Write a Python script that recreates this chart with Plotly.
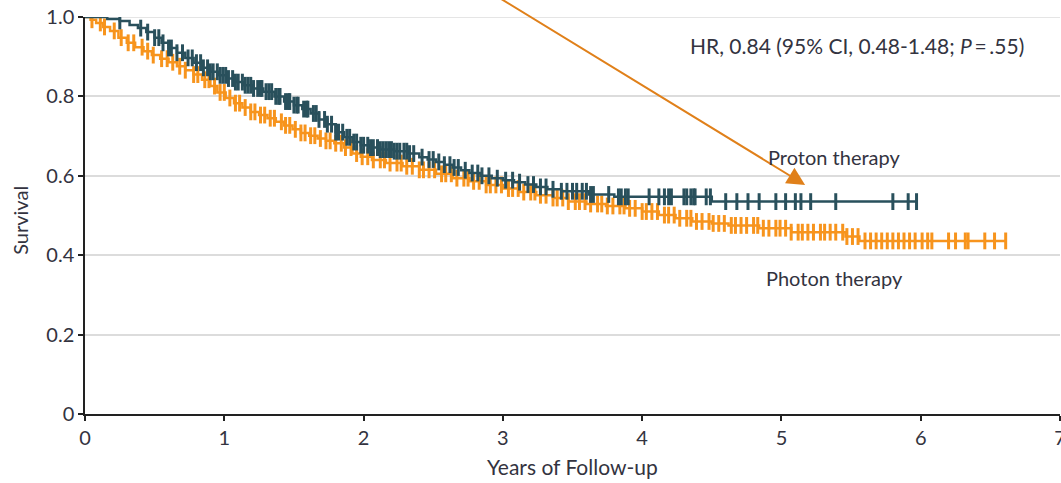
import plotly.graph_objects as go
import bisect

# ---- Data ----
proton_t = [0, 0.16, 0.25, 0.32, 0.38, 0.44, 0.50, 0.55, 0.60, 0.66, 0.72, 0.78, 0.84, 0.90, 0.96,
            1.02, 1.08, 1.14, 1.20, 1.28, 1.36, 1.43, 1.50, 1.56, 1.62, 1.68, 1.74, 1.80, 1.86, 1.92,
            1.98, 2.04, 2.12, 2.22, 2.32, 2.40, 2.46, 2.52, 2.58, 2.64, 2.70, 2.76, 2.84, 2.92, 3.00,
            3.08, 3.16, 3.24, 3.32, 3.42, 3.62, 3.80, 4.50, 5.97]
proton_s = [1.0, 0.995, 0.99, 0.98, 0.972, 0.962, 0.948, 0.935, 0.922, 0.91, 0.897, 0.885, 0.872, 0.862, 0.853,
            0.845, 0.836, 0.828, 0.82, 0.812, 0.80, 0.787, 0.778, 0.768, 0.757, 0.742, 0.73, 0.71, 0.697, 0.685,
            0.677, 0.671, 0.666, 0.662, 0.656, 0.647, 0.641, 0.635, 0.628, 0.621, 0.614, 0.607, 0.600, 0.594, 0.589,
            0.584, 0.578, 0.572, 0.566, 0.561, 0.553, 0.547, 0.535, 0.535]
proton_censor = [0.25, 0.40, 0.45, 0.50, 0.53, 0.56, 0.60, 0.62, 0.66, 0.70, 0.74, 0.77, 0.80, 0.83, 0.85,
                 0.88, 0.90, 0.92, 0.95, 0.97, 0.99, 1.01, 1.03, 1.06, 1.08, 1.10, 1.13, 1.15, 1.17, 1.19,
                 1.21, 1.24, 1.26, 1.27, 1.30, 1.32, 1.34, 1.37, 1.39, 1.40, 1.44, 1.46, 1.47, 1.50, 1.52,
                 1.53, 1.57, 1.59, 1.60, 1.64, 1.66, 1.68, 1.72, 1.74, 1.77, 1.80, 1.82, 1.85, 1.88, 1.90,
                 1.93, 1.95, 1.98, 2.00, 2.03, 2.05, 2.07, 2.10, 2.12, 2.14, 2.16, 2.18, 2.20, 2.22, 2.24,
                 2.26, 2.29, 2.31, 2.33, 2.36, 2.42, 2.47, 2.50, 2.54, 2.58, 2.62, 2.65, 2.68, 2.73, 2.78,
                 2.82, 2.85, 2.90, 2.96, 3.02, 3.07, 3.12, 3.18, 3.22, 3.27, 3.31, 3.36, 3.42, 3.46, 3.50,
                 3.53, 3.57, 3.60, 3.63, 3.65, 3.76, 3.83, 3.85, 3.88, 3.90, 4.05, 4.12, 4.16, 4.19, 4.21,
                 4.30, 4.32, 4.35, 4.37, 4.38, 4.46, 4.49, 4.60, 4.68, 4.76, 4.84, 4.96, 5.03, 5.10, 5.14,
                 5.21, 5.39, 5.80, 5.91, 5.97]

photon_t = [0, 0.04, 0.08, 0.13, 0.18, 0.24, 0.30, 0.36, 0.42, 0.48, 0.54, 0.60, 0.66, 0.72, 0.78,
            0.84, 0.90, 0.95, 1.01, 1.07, 1.13, 1.19, 1.25, 1.31, 1.37, 1.43, 1.49, 1.55, 1.61, 1.67,
            1.73, 1.79, 1.86, 1.92, 1.98, 2.06, 2.16, 2.28, 2.40, 2.52, 2.64, 2.76, 2.88, 3.00, 3.12,
            3.24, 3.36, 3.47, 3.60, 3.74, 3.88, 4.00, 4.12, 4.24, 4.36, 4.50, 4.62, 4.84, 5.07, 5.46,
            5.56, 6.61]
photon_s = [1.0, 0.993, 0.985, 0.975, 0.965, 0.948, 0.935, 0.924, 0.914, 0.904, 0.895, 0.886, 0.876, 0.866, 0.855,
            0.842, 0.826, 0.81, 0.796, 0.783, 0.772, 0.761, 0.753, 0.745, 0.736, 0.727, 0.717, 0.708, 0.701, 0.694,
            0.688, 0.682, 0.671, 0.656, 0.648, 0.64, 0.632, 0.624, 0.615, 0.605, 0.594, 0.586, 0.577, 0.568, 0.559,
            0.551, 0.544, 0.535, 0.529, 0.524, 0.518, 0.51, 0.501, 0.493, 0.485, 0.48, 0.475, 0.468, 0.458, 0.447,
            0.436, 0.436]
photon_censor = [0.05, 0.11, 0.14, 0.21, 0.26, 0.31, 0.35, 0.41, 0.45, 0.49, 0.55, 0.59, 0.63, 0.68, 0.72,
                 0.78, 0.81, 0.86, 0.89, 0.93, 0.97, 1.00, 1.04, 1.08, 1.11, 1.15, 1.19, 1.22, 1.26, 1.29,
                 1.33, 1.36, 1.41, 1.44, 1.47, 1.51, 1.55, 1.58, 1.62, 1.65, 1.69, 1.73, 1.76, 1.80, 1.84,
                 1.87, 1.91, 1.95, 1.99, 2.03, 2.07, 2.12, 2.15, 2.19, 2.24, 2.27, 2.31, 2.35, 2.40, 2.43,
                 2.47, 2.51, 2.56, 2.59, 2.63, 2.67, 2.72, 2.75, 2.79, 2.83, 2.88, 2.91, 2.95, 2.99, 3.04,
                 3.07, 3.11, 3.15, 3.20, 3.23, 3.27, 3.31, 3.36, 3.39, 3.43, 3.47, 3.52, 3.55, 3.59, 3.63,
                 3.68, 3.71, 3.75, 3.79, 3.84, 3.87, 3.91, 3.95, 4.00, 4.03, 4.07, 4.11, 4.16, 4.19, 4.23,
                 4.27, 4.32, 4.35, 4.39, 4.43, 4.48, 4.51, 4.55, 4.59, 4.64, 4.67, 4.71, 4.75, 4.80, 4.83,
                 4.87, 4.91, 4.96, 4.99, 5.03, 5.07, 5.12, 5.15, 5.19, 5.23, 5.28, 5.31, 5.35, 5.39, 5.44,
                 5.47, 5.51, 5.55, 5.60, 5.64, 5.68, 5.72, 5.76, 5.80, 5.84, 5.88, 5.92, 5.96, 6.01, 6.05,
                 6.08, 6.20, 6.25, 6.32, 6.34, 6.46, 6.53, 6.61]

x_ticks = [0, 1, 2, 3, 4, 5, 6, 7]
y_ticks = [0, 0.2, 0.4, 0.6, 0.8, 1.0]
y_tick_labels = ["0", "0.2", "0.4", "0.6", "0.8", "1.0"]

TEAL = "#29505c"
ORANGE = "#f7941d"
ARROW = "#e0801a"
TEXT = "#333340"
GRID = "#dcdcdc"
FONT = "Lato"


def step_lookup(ts, ss, t):
    i = bisect.bisect_right(ts, t) - 1
    return ss[max(i, 0)]


fig = go.Figure()

for ts, ss, cens, col in [(photon_t, photon_s, photon_censor, ORANGE),
                          (proton_t, proton_s, proton_censor, TEAL)]:
    fig.add_trace(go.Scatter(x=ts, y=ss, mode="lines", line=dict(color=col, width=2.5, shape="hv"),
                             showlegend=False, hoverinfo="skip"))
    fig.add_trace(go.Scatter(x=cens, y=[step_lookup(ts, ss, c) for c in cens], mode="markers",
                             marker=dict(symbol="line-ns", size=12, line=dict(color=col, width=3)),
                             showlegend=False, hoverinfo="skip"))

# gridline at the top of the range (plotly skips the grid at the very edge)
fig.add_shape(type="line", xref="x", yref="y", x0=0, x1=7, y0=y_ticks[-1], y1=y_ticks[-1],
              line=dict(color=GRID, width=1.5), layer="below")

fig.add_annotation(x=5.17, y=0.577, ax=2.92, ay=1.06, xref="x", yref="y", axref="x", ayref="y",
                   showarrow=True, arrowhead=2, arrowsize=1.8, arrowwidth=2, arrowcolor=ARROW, text="")

fig.add_annotation(x=5.54, y=0.929, xref="x", yref="y", showarrow=False,
                   xanchor="center", yanchor="middle",
                   text="HR, 0.84 (95% CI, 0.48-1.48; <i>P</i>\u2009=\u2009.55)",
                   font=dict(family=FONT, size=21, color=TEXT))
fig.add_annotation(x=5.38, y=0.647, xref="x", yref="y", showarrow=False, text="Proton therapy",
                   xanchor="center", yanchor="middle",
                   font=dict(family=FONT, size=20, color=TEXT))
fig.add_annotation(x=5.38, y=0.343, xref="x", yref="y", showarrow=False, text="Photon therapy",
                   xanchor="center", yanchor="middle",
                   font=dict(family=FONT, size=20, color=TEXT))

# axis titles placed as annotations (paper coordinates)
fig.add_annotation(x=-0.0667, y=0.489, xref="paper", yref="paper", showarrow=False, text="Survival",
                   xanchor="center", yanchor="middle",
                   textangle=-90, font=dict(family=FONT, size=20, color=TEXT))
fig.add_annotation(x=0.5005, y=-0.1335, xref="paper", yref="paper", showarrow=False,
                   xanchor="center", yanchor="middle",
                   text="Years of Follow-up", font=dict(family=FONT, size=21, color=TEXT))

fig.update_layout(
    width=1061, height=483,
    margin=dict(l=85, r=1, t=17, b=69),
    paper_bgcolor="white", plot_bgcolor="white",
    font=dict(family=FONT, size=20, color=TEXT),
    xaxis=dict(range=[0, 7], tickvals=x_ticks, showgrid=False, zeroline=False, automargin=False,
               showline=True, linecolor="#222222", linewidth=1.5, ticklabeloverflow="allow",
               ticks="outside", ticklen=5, tickcolor="#222222", tickwidth=1.5,
               tickfont=dict(family=FONT, size=20, color=TEXT)),
    yaxis=dict(range=[0, 1.0], tickvals=y_ticks, ticktext=y_tick_labels, automargin=False,
               showgrid=True, gridcolor=GRID, gridwidth=1.5, zeroline=False,
               showline=True, linecolor="#222222", linewidth=1.5, ticklabeloverflow="allow",
               ticks="outside", ticklen=5, tickcolor="#222222", tickwidth=1.5,
               tickfont=dict(family=FONT, size=20, color=TEXT)),
)

# remove the browser's default 8px body margin so the figure fills the window exactly
fig.write_html("out.html", config={"displayModeBar": False},
               post_script="document.body.style.margin='0';")
